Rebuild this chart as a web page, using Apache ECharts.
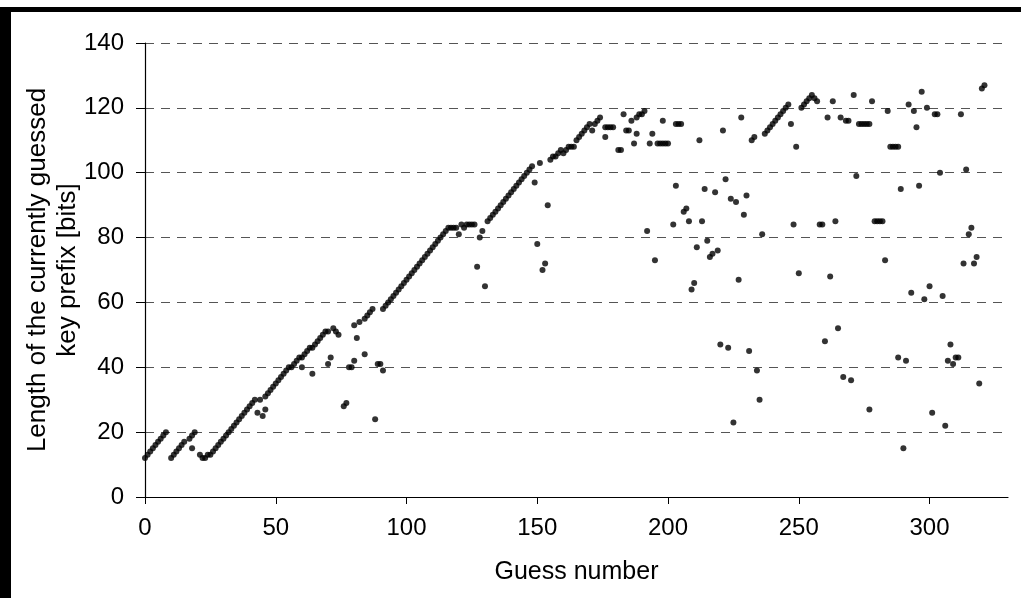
<!DOCTYPE html>
<html>
<head>
<meta charset="utf-8">
<script src="https://cdn.jsdelivr.net/npm/echarts@6/dist/echarts.min.js"></script>
<style>
html,body{margin:0;padding:0;background:#fff;}
#chart{width:1021px;height:598px;}
</style>
</head>
<body>
<div id="chart"></div>
<script>
// Guess number vs. length of the currently guessed key prefix [bits]
const xTicks = [0, 50, 100, 150, 200, 250, 300];
const yTicks = [0, 20, 40, 60, 80, 100, 120, 140];

const guessesEarly = [
  [0,12],[1,13],[2,14],[3,15],[4,16],[5,17],[6,18],[7,19],[8,20],
  [10,12],[11,13],[12,14],[13,15],[14,16],[15,17],[17,18],[18,15],[18,19],[19,20],
  [21,13],[22,12],[23,12],[24,13],[25,13],[26,14],[27,15],[28,16],[29,17],[30,18],
  [31,19],[32,20],[33,21],[34,22],[35,23],[36,24],[37,25],[38,26],[39,27],[40,28],
  [41,29],[42,30],[43,26],[44,30],[45,25],[46,27],[46,31],[47,32],
  [48,33],[49,34],[50,35],[51,36],[52,37],[53,38],[54,39],[55,40],[56,40],[57,41],
  [58,42],[59,43],[60,40],[60,43],[61,44],[62,45],[63,46],[64,38],[64,46],[65,47],
  [66,48],[67,49],[68,50],[69,51],[70,51],[70,41],[71,43],[72,52],[73,51],[74,50],
  [76,28],[77,29],[78,40],[79,40],[80,53],[80,42],[81,49],[82,54],[84,44],[84,55],
  [85,56],[86,57],[87,58],[88,24],[89,41],[90,41],[91,39]
];

const guessesMid = [
  [91,58],[92,59],[93,60],[94,61],[95,62],[96,63],[97,64],[98,65],[99,66],[100,67],
  [101,68],[102,69],[103,70],[104,71],[105,72],[106,73],[107,74],[108,75],[109,76],[110,77],
  [111,78],[112,79],[113,80],[114,81],[115,82],[116,83],
  [117,83],[118,83],[119,83],[120,81],[121,84],[122,83],[123,84],[124,84],[125,84],[126,84],
  [127,71],[128,80],[129,82],[130,65],
  [131,85],[132,86],[133,87],[134,88],[135,89],[136,90],[137,91],[138,92],[139,93],[140,94],
  [141,95],[142,96],[143,97],[144,98],[145,99],[146,100],[147,101],[148,102],
  [149,97],[150,78],[151,103],[152,70],[153,72],[154,90],
  [155,104],[156,105],[157,105],[158,106],[159,107],[160,106],[161,107],[162,108],[163,108],[164,108],
  [165,110],[166,111],[167,112],[168,113],[169,114],[170,115],[171,113],[172,115],[173,116],[174,117],
  [176,111],[176,114],[177,114],[178,114],[179,114],[181,107],[182,107],[183,118],[184,113],[185,113],
  [186,116],[187,109],[188,112],[188,117],[189,118],[190,118],[191,119],[192,82],[193,109],[194,112],
  [195,73],[196,109],[197,109],[198,109],[198,116],[199,109],[200,109]
];

const guessesLate = [
  [202,84],[203,96],[203,115],[204,115],[205,115],[206,88],[207,89],[208,85],[209,64],[210,66],
  [211,77],[212,110],[213,85],[214,95],[215,79],[216,74],[217,75],[218,94],[219,76],[220,47],
  [221,113],[222,98],[223,46],[224,92],[225,23],[226,91],[227,67],[228,117],[229,87],[230,93],
  [231,45],[232,110],[233,111],[234,39],[235,30],[236,81],
  [237,112],[238,113],[239,114],[240,115],[241,116],[242,117],[243,118],[244,119],[245,120],[246,121],
  [247,115],[248,84],[249,108],[250,69],
  [251,120],[252,121],[253,122],[254,123],[255,124],[256,123],[257,122],
  [258,84],[259,84],[260,48],[261,117],[262,68],[263,122],[264,85],[265,52],[266,117],
  [267,37],[268,116],[269,116],[270,36],[271,124],[272,99],
  [273,115],[274,115],[275,115],[276,115],[277,115],[277,27],[278,122],
  [279,85],[280,85],[281,85],[282,85],[283,73],[284,119],
  [285,108],[286,108],[287,108],[288,108],[288,43],[289,95],[290,15],[291,42],[292,121],[293,63],
  [294,119],[295,114],[296,96],[297,125],[298,61],[299,120],[300,65],[301,26],[302,118],[303,118],
  [304,100],[305,62],[306,22],[307,42],[308,47],[309,41],[310,43],[311,43],[312,118],[313,72],
  [314,101],[315,81],[316,83],[317,72],[318,74],[319,35],[320,126],[321,127]
];

const chart = echarts.init(document.getElementById('chart'), null, {renderer: 'canvas'});
const FONT = 'Liberation Sans, Arial, sans-serif';
const dot = {type: 'scatter', symbol: 'circle', symbolSize: 6, itemStyle: {color: '#000'}};

chart.setOption({
  animation: false,
  backgroundColor: '#ffffff',
  grid: {left: 145, right: 13, top: 43, bottom: 101, containLabel: false},
  xAxis: {
    type: 'value', min: 0, max: 330,
    name: 'Guess number', nameLocation: 'middle', nameGap: 63, nameMoveOverlap: false,
    nameTextStyle: {fontFamily: FONT, fontSize: 25, color: '#000'},
    axisLine: {show: true, onZero: false, lineStyle: {color: '#000', width: 1.2}},
    axisTick: {show: true, length: 7, lineStyle: {color: '#000'}, customValues: xTicks},
    axisLabel: {customValues: xTicks, fontFamily: FONT, fontSize: 24, color: '#000', margin: 19},
    splitLine: {show: false}
  },
  yAxis: {
    type: 'value', min: 0, max: 140, interval: 20,
    name: 'Length of the currently guessed\nkey prefix [bits]', nameLocation: 'middle', nameGap: 62,
    nameRotate: 90, nameMoveOverlap: false,
    nameTextStyle: {fontFamily: FONT, fontSize: 26, color: '#000', lineHeight: 30},
    axisLine: {show: true, lineStyle: {color: '#000', width: 1.2}},
    axisTick: {show: true, length: 9, lineStyle: {color: '#000'}},
    axisLabel: {fontFamily: FONT, fontSize: 24, color: '#000', margin: 21,
      formatter: v => yTicks.includes(v) ? String(v) : ''},
    splitLine: {show: true, lineStyle: {color: '#555', width: 1, type: [9, 7]}}
  },
  series: [
    Object.assign({data: guessesEarly}, dot),
    Object.assign({data: guessesMid}, dot),
    Object.assign({data: guessesLate}, dot)
  ],
  graphic: [
    {type: 'rect', shape: {x: 0, y: 7, width: 1021, height: 5}, style: {fill: '#000'}, z: 100},
    {type: 'rect', shape: {x: 0, y: 7, width: 11, height: 591}, style: {fill: '#000'}, z: 100}
  ]
});
</script>
</body>
</html>
